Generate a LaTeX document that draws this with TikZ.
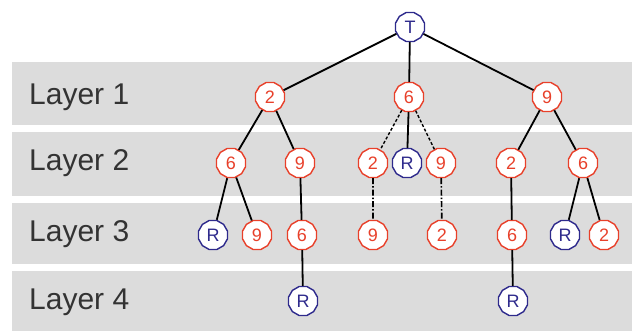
\documentclass[tikz,border=0pt]{standalone}
\usepackage{fontspec}
\setmainfont{Liberation Sans}
\usetikzlibrary{shapes.geometric}
\definecolor{bandgray}{HTML}{DCDCDC}
\definecolor{nred}{HTML}{E8402A}
\definecolor{nblue}{HTML}{2E2A8C}
\definecolor{labgray}{HTML}{333333}
\tikzset{
  rn/.style={regular polygon, regular polygon sides=12, minimum size=30pt, inner sep=0pt,
    draw=nred, fill=white, line width=1.4pt, text=nred, font=\fontsize{18}{18}\selectfont},
  bn/.style={rn, draw=nblue, text=nblue},
  edge/.style={draw=black, line width=1.8pt},
  dedge/.style={draw=black, line width=1.4pt, densely dashed},
  ddedge/.style={draw=black, line width=1.6pt, dash pattern=on 6pt off 2pt on 1.5pt off 2pt},
  band/.style={fill=bandgray, draw=none},
  lab/.style={anchor=west, text=labgray, font=\fontsize{30}{30}\selectfont, inner sep=0pt}
}
\begin{document}
\begin{tikzpicture}[x=1pt,y=-1pt]
\useasboundingbox (0,0) rectangle (632,331);
\fill[white] (0,0) rectangle (632,331);
\path[band] (12,62) rectangle (632,125);
\path[band] (12,132) rectangle (632,196);
\path[band] (12,203) rectangle (632,264);
\path[band] (12,271) rectangle (632,331);
\node[lab] (l1) at (29,97) {Layer 1};
\node[lab] (l2) at (29,163) {Layer 2};
\node[lab] (l3) at (29,234) {Layer 3};
\node[lab] (l4) at (29,302) {Layer 4};
% edges first (behind nodes)
\coordinate (pt) at (410,27);
\node[bn] (t) at (410,27) {T};
% layer 1
\node[rn] (a) at (270,97) {2};
\node[rn] (b) at (409,97) {6};
\node[rn] (c) at (547,97) {9};
% layer 2
\node[rn] (a1) at (231,163) {6};
\node[rn] (a2) at (300,163) {9};
\node[rn] (b1) at (373,163) {2};
\node[bn] (b2) at (407,163) {R};
\node[rn] (b3) at (441,163) {9};
\node[rn] (c1) at (511,163) {2};
\node[rn] (c2) at (583,163) {6};
% layer 3
\node[bn] (a11) at (213,235) {R};
\node[rn] (a12) at (257,235) {9};
\node[rn] (a21) at (302,235) {6};
\node[rn] (b11) at (373,235) {9};
\node[rn] (b31) at (442,235) {2};
\node[rn] (c11) at (512,235) {6};
\node[bn] (c21) at (565,235) {R};
\node[rn] (c22) at (604,235) {2};
% layer 4
\node[bn] (a211) at (303,301) {R};
\node[bn] (c111) at (513,301) {R};
% edges
\draw[edge] (t) -- (a);
\draw[edge] (t) -- (b);
\draw[edge] (t) -- (c);
\draw[edge] (a) -- (a1);
\draw[edge] (a) -- (a2);
\draw[dedge] (b) -- (b1);
\draw[edge] (b) -- (b2);
\draw[dedge] (b) -- (b3);
\draw[edge] (c) -- (c1);
\draw[edge] (c) -- (c2);
\draw[edge] (a1) -- (a11);
\draw[edge] (a1) -- (a12);
\draw[edge] (a2) -- (a21);
\draw[ddedge] (b1) -- (b11);
\draw[ddedge] (b3) -- (b31);
\draw[edge] (c1) -- (c11);
\draw[edge] (c2) -- (c21);
\draw[edge] (c2) -- (c22);
\draw[edge] (a21) -- (a211);
\draw[edge] (c11) -- (c111);
\end{tikzpicture}
\end{document}
